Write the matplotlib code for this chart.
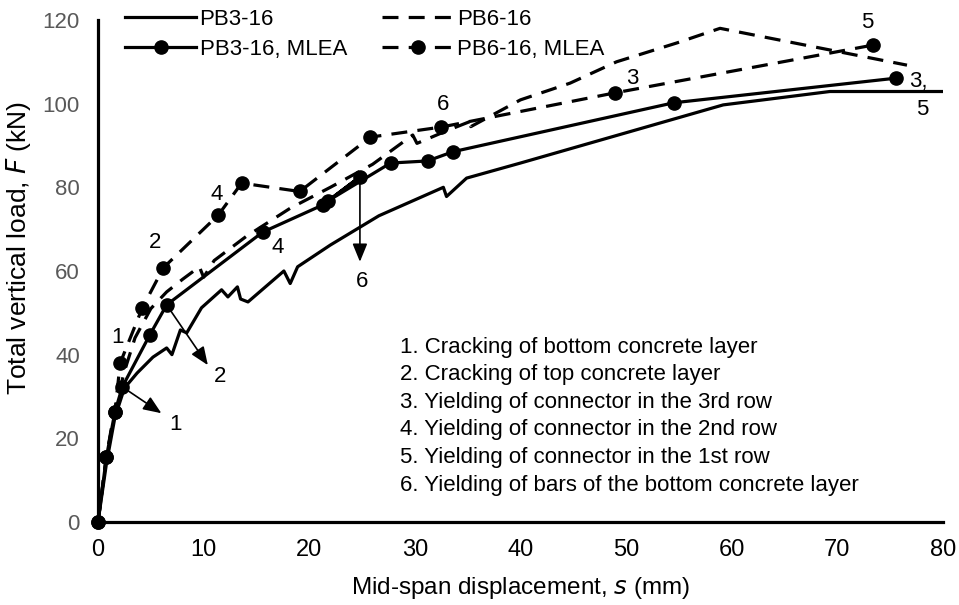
import matplotlib.pyplot as plt

# PB3-16 test curve
s_pb3 = [0, 0.8, 1.6, 2.5, 3.7, 5.2, 6.5, 7.0, 7.8, 8.4, 9.8, 11.7, 12.3, 13.2, 13.5, 14.2,
         17.6, 18.2, 18.9, 22.0, 26.6, 32.7, 33.0, 34.9, 40.0, 59.2, 69.3, 80.0]
F_pb3 = [0, 14, 25, 32, 35.6, 39.4, 41.6, 40.0, 45.9, 45.2, 51.2, 55.5, 53.8, 56.2, 53.3, 52.6,
         60.0, 57.0, 61.0, 66.2, 73.2, 80.0, 77.8, 82.2, 85.8, 99.7, 102.9, 102.9]

# PB6-16 test curve
s_pb6 = [0, 0.7, 1.5, 2.5, 3.5, 5.0, 6.5, 8.0, 9.6, 10.0, 11.0, 14.0, 18.2, 22.0, 26.0,
         29.8, 30.2, 33.0, 35.5, 35.3, 40.0, 44.7, 49.1, 54.8, 58.9, 76.6]
F_pb6 = [0, 14, 26, 36, 44, 51, 55, 58, 61, 58.5, 62.5, 68.2, 75, 80, 85.5,
         92.5, 90.5, 93.5, 96, 94.5, 100.9, 104.9, 110, 114.5, 118, 109.2]

# PB3-16 MLEA
s_pb3_mlea = [0, 0.8, 1.6, 2.3, 4.9, 6.5, 15.6, 21.3, 24.8, 21.8, 27.7, 31.2, 33.6, 54.5, 75.6]
F_pb3_mlea = [0, 15.6, 26.3, 32.3, 44.7, 51.9, 69.3, 75.8, 82.5, 76.8, 85.8, 86.3, 88.5, 100.2, 106.1]

# PB6-16 MLEA
s_pb6_mlea = [0, 0.8, 1.6, 2.1, 4.2, 6.2, 11.4, 13.6, 19.1, 25.8, 32.5, 49.0, 73.4]
F_pb6_mlea = [0, 15.6, 26.3, 38.0, 51.2, 60.8, 73.4, 81.0, 79.0, 92.0, 94.4, 102.6, 114.0]

notes = ["1. Cracking of bottom concrete layer",
         "2. Cracking of top concrete layer",
         "3. Yielding of connector in the 3rd row",
         "4. Yielding of connector in the 2nd row",
         "5. Yielding of connector in the 1st row",
         "6. Yielding of bars of the bottom concrete layer"]

plt.rcParams['font.family'] = ['Liberation Sans', 'DejaVu Sans']
fig = plt.figure(figsize=(9.59, 6.05), dpi=100)
ax = fig.add_axes([0.1022, 0.1372, 0.881, 0.8298])

lw = 2.3
dash = (5, 3.2)
l1, = ax.plot(s_pb3, F_pb3, color='black', lw=lw, label='PB3-16')
l2, = ax.plot(s_pb6, F_pb6, color='black', lw=lw, dashes=dash, label='PB6-16')
l3, = ax.plot(s_pb3_mlea, F_pb3_mlea, color='black', lw=lw, marker='o', ms=9.5,
              label='PB3-16, MLEA', clip_on=False)
l4, = ax.plot(s_pb6_mlea, F_pb6_mlea, color='black', lw=lw, dashes=dash, marker='o', ms=9.5,
              label='PB6-16, MLEA', clip_on=False)

ax.set_xlim(0, 80)
ax.set_ylim(0, 120)
ax.set_xticks(range(0, 81, 10))
ax.set_yticks(range(0, 121, 20))
ax.tick_params(length=0, labelsize=16)
ax.tick_params(axis='y', labelcolor='#595959', pad=13)
ax.tick_params(axis='x', pad=12, labelsize=17)
for side in ['top', 'right']:
    ax.spines[side].set_visible(False)
for side in ['left', 'bottom']:
    ax.spines[side].set_linewidth(2.3)
ax.set_xlabel('Mid-span displacement, $\\it{s}$ (mm)', fontsize=17.5, labelpad=10)
ax.set_ylabel('Total vertical load, $\\it{F}$ (kN)', fontsize=19)
ax.yaxis.set_label_coords(-0.077, 0.545)

fs = 16
# event labels along the curves
ax.text(1.8, 44, '1', fontsize=fs, ha='center', va='center')
ax.text(5.4, 66.7, '2', fontsize=fs, ha='center', va='center')
ax.text(11.2, 78.2, '4', fontsize=fs, ha='center', va='center')
ax.text(17.0, 65.7, '4', fontsize=fs, ha='center', va='center')
ax.text(32.7, 99.7, '6', fontsize=fs, ha='center', va='center')
ax.text(50.6, 106.1, '3', fontsize=fs, ha='center', va='center')
ax.text(72.8, 119.3, '5', fontsize=fs, ha='center', va='center')
ax.text(76.8, 105.2, '3,', fontsize=fs, ha='left', va='center')
ax.text(78.0, 98.5, '5', fontsize=fs, ha='center', va='center')

arrow = dict(arrowstyle='-|>,head_length=1.1,head_width=0.45', color='black', lw=1.2,
             shrinkA=0, shrinkB=0)
ax.annotate('', xy=(6.0, 26), xytext=(2.3, 32.3), arrowprops=arrow)
ax.text(7.3, 23.2, '1', fontsize=fs, ha='center', va='center')
ax.annotate('', xy=(10.4, 37.5), xytext=(6.5, 51.9), arrowprops=arrow)
ax.text(11.6, 34.7, '2', fontsize=fs, ha='center', va='center')
ax.annotate('', xy=(24.8, 62.2), xytext=(24.8, 82.5), arrowprops=arrow)
ax.text(25.0, 57.4, '6', fontsize=fs, ha='center', va='center')

for i, line in enumerate(notes):
    fig.text(400 / 959, 1 - (347 + 27.6 * i) / 605, line, fontsize=fs, va='center')

ax.legend([l1, l3, l2, l4], [l.get_label() for l in (l1, l3, l2, l4)],
          loc='upper left', bbox_to_anchor=(114 / 959, 1 + 2 / 605),
          bbox_transform=fig.transFigure, ncol=2, frameon=False, borderpad=0,
          fontsize=fs, handlelength=3.2, handletextpad=0.15, columnspacing=1.6,
          labelspacing=0.4)

fig.savefig('out.png', dpi=100)
